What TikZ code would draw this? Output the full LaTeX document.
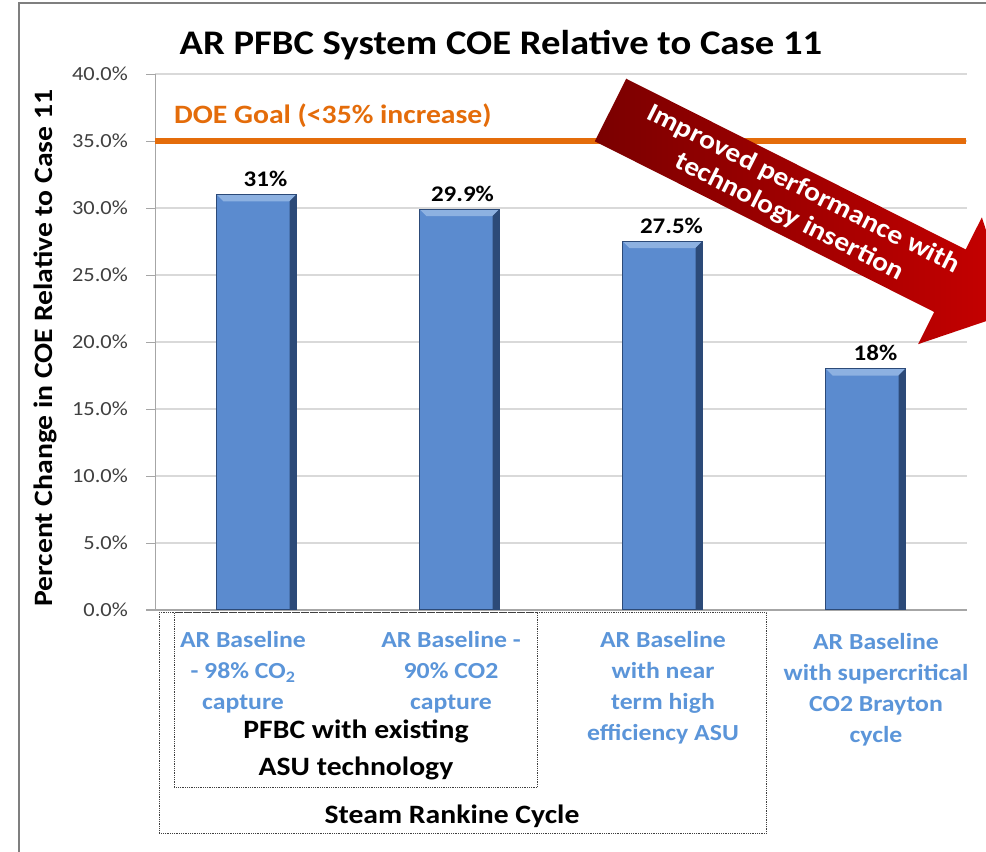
\documentclass[tikz,border=0pt]{standalone}
\usepackage{fontspec}
\setmainfont{Carlito}[FakeStretch=1.12]
\usepackage{tikz}
\usetikzlibrary{positioning}
\usepackage{xcolor}
\definecolor{doeOrange}{HTML}{E46C0A}
\definecolor{barBlue}{HTML}{5B8BCF}
\definecolor{barLight}{HTML}{8DB1E1}
\definecolor{barDark}{HTML}{2C4A78}
\definecolor{catBlue}{HTML}{5B95D9}
\definecolor{gridGray}{HTML}{D9D9D9}
\definecolor{axisGray}{HTML}{A6A6A6}
\definecolor{tickGray}{HTML}{404040}
\definecolor{frameGray}{HTML}{7F7F7F}
\definecolor{arrowDark}{HTML}{7A0000}
\definecolor{arrowRed}{HTML}{C80000}
\tikzset{%
  % Specifications for style of nodes:
           base/.style = {inner sep=0pt, align=center},
     charttitle/.style = {base, font={\fontsize{34.5}{40}\selectfont\bfseries}},
      axistitle/.style = {base, font={\fontsize{26.5}{30}\selectfont\bfseries}},
      ticklabel/.style = {base, anchor=east, text=tickGray,
                          font={\fontsize{20}{24}\selectfont}},
            bar/.style = {base, rectangle, anchor=south, minimum width=80pt,
                          fill=barBlue, draw=barDark, line width=0.6pt,
                          path picture={
                            \fill[barLight] (path picture bounding box.north west)
                              -- (path picture bounding box.north east)
                              -- ([xshift=-7pt,yshift=-7pt]path picture bounding box.north east)
                              -- ([xshift=7pt,yshift=-7pt]path picture bounding box.north west)
                              -- cycle;
                            \fill[barDark] (path picture bounding box.north east)
                              -- (path picture bounding box.south east)
                              -- ([xshift=-7pt]path picture bounding box.south east)
                              -- ([xshift=-7pt,yshift=-7pt]path picture bounding box.north east)
                              -- cycle;}},
       barlabel/.style = {base, font={\fontsize{22.3}{26}\selectfont\bfseries}},
       catlabel/.style = {base, text=catBlue,
                          font={\fontsize{23}{31}\selectfont\bfseries}},
      grouplabel/.style = {base, font={\fontsize{26.5}{37}\selectfont\bfseries}},
       groupbox/.style = {base, rectangle, anchor=north west, densely dotted,
                          draw=tickGray, line width=0.8pt},
       doelabel/.style = {base, anchor=west, text=doeOrange,
                          font={\fontsize{26.5}{30}\selectfont\bfseries}},
      arrowtext/.style = {base, text=white,
                          font={\fontsize{26.5}{31}\selectfont\bfseries}},
}

\begin{document}
\begin{tikzpicture}[x=1pt, y=-1pt]
  \useasboundingbox (0,0) rectangle (986,852);
  \clip (0,0) rectangle (986,852);
  \fill[white] (0,0) rectangle (986,852);
  \draw[frameGray, line width=2pt] (19,852) -- (19,3) -- (986,3);

  % Title and axis title
  \node (title) [charttitle] at (501,45) {AR PFBC System COE Relative to Case 11};
  \node (yTitle) [axistitle, rotate=90] at (45,348) {Percent Change in COE Relative to Case 11};

  % Grid, axes and tick labels (5% = 67px)
  \foreach \v in {5,10,...,40}
    \draw[gridGray, line width=1.5pt] (155,{610-13.4*\v}) -- (967,{610-13.4*\v});
  \foreach \v in {0,5,...,40} {
    \draw[axisGray, line width=1pt] (146,{610-13.4*\v}) -- (155,{610-13.4*\v});
    \node [ticklabel] at (128,{610-13.4*\v}) {\v.0\%};
  }
  \draw[axisGray, line width=1pt] (155,74) -- (155,610);
  \draw[axisGray, line width=1.5pt] (146,610) -- (967,610);

  % DOE goal line
  \draw[doeOrange, line width=6pt] (155,141) -- (966,141);
  \node (doeGoal) [doelabel] at (174,116) {DOE Goal (<35\% increase)};

  % Bars with value labels
  \node (barA) [bar, minimum height=415.4pt] at (256.5,610) {};
  \node (barB) [bar, minimum height=400.7pt] at (459.5,610) {};
  \node (barC) [bar, minimum height=368.5pt] at (662.5,610) {};
  \node (barD) [bar, minimum height=241.2pt] at (865.5,610) {};
  \node (valA) [barlabel, above=7pt of barA, xshift=9pt] {31\%};
  \node (valB) [barlabel, above=7pt of barB, xshift=3pt] {29.9\%};
  \node (valC) [barlabel, above=7pt of barC, xshift=9pt] {27.5\%};
  \node (valD) [barlabel, above=7pt of barD, xshift=10pt] {18\%};

  % Category labels and group boxes
  \node (catA) [catlabel] at (243,672) {AR Baseline\\- 98\% CO\textsubscript{2}\\capture};
  \node (catB) [catlabel] at (451,672) {AR Baseline -\\90\% CO2\\capture};
  \node (catC) [catlabel] at (663,688) {AR Baseline\\with near\\term high\\efficiency ASU};
  \node (catD) [catlabel] at (876,690) {AR Baseline\\with supercritical\\CO2 Brayton\\cycle};
  \node (rankineBox) [groupbox, minimum width=607pt, minimum height=221pt] at (159,612) {};
  \node (pfbcBox) [groupbox, minimum width=363pt, minimum height=175pt] at (174,612) {};
  \node (pfbcLabel) [grouplabel] at (356,750) {PFBC with existing\\ASU technology};
  \node (rankineLabel) [grouplabel] at (452,816) {Steam Rankine Cycle};

  % Block arrow for the trend
  \begin{scope}[shift={(610.5,110)}, rotate=-26.7, transform shape]
    \shade[left color=arrowDark, right color=arrowRed]
      (0,-35) -- (380,-35) -- (380,-71) -- (450,0) -- (380,71) -- (380,35) -- (0,35) -- cycle;
    \node (trendText) [arrowtext] at (208,0) {Improved performance with\\technology insertion};
  \end{scope}
\end{tikzpicture}
\end{document}
